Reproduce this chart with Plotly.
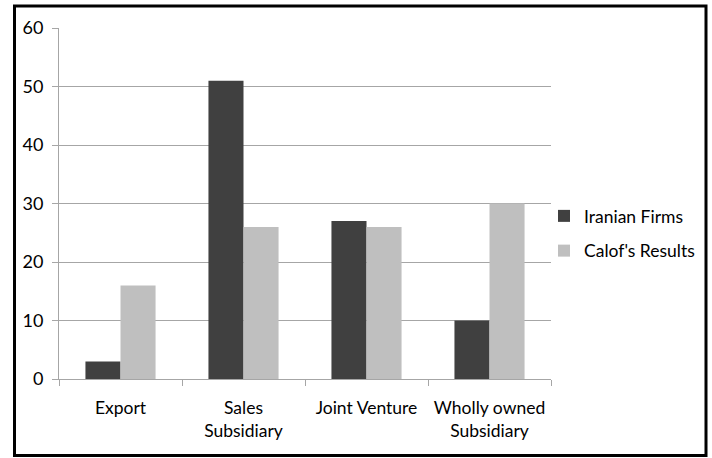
import plotly.graph_objects as go

# Entry modes compared across two sources
categories = ["Export", "Sales<br>Subsidiary", "Joint Venture", "Wholly owned<br>Subsidiary"]
iranian_firms = [3, 51, 27, 10]
calof_results = [16, 26, 26, 30]
y_ticks = [0, 10, 20, 30, 40, 50, 60]

FONT = "Lato, 'Open Sans', sans-serif"
GRID = "#a6a6a6"

fig = go.Figure()
fig.add_trace(go.Bar(name="Iranian Firms", x=categories, y=iranian_firms,
                     legendgroup="a",
                     marker=dict(color="#404040", line=dict(width=0))))
fig.add_trace(go.Bar(name="Calof's Results", x=categories, y=calof_results,
                     legendgroup="b",
                     marker=dict(color="#bfbfbf", line=dict(width=0))))

# plot area spans roughly x 59..551, y 28..379 px
L, R, T, B = 59, 551, 28, 379
W, H = 712, 458
pw, ph = R - L, B - T

def px(x):
    return (x - L) / pw

def py(y):
    return (B - y) / ph

fig.update_layout(
    width=W, height=H,
    margin=dict(l=L, r=W - R, t=T, b=H - B, pad=0, autoexpand=False),
    paper_bgcolor="white", plot_bgcolor="white",
    barmode="group", bargap=0.43, bargroupgap=0,
    font=dict(family=FONT, size=17, color="#000000"),
    showlegend=True,
    legend=dict(x=px(544), y=py(198), xanchor="left", yanchor="top",
                font=dict(family=FONT, size=17.5, color="#000000"),
                bgcolor="rgba(0,0,0,0)", tracegroupgap=9, itemwidth=30),
    xaxis=dict(
        showgrid=False, showline=True, linecolor=GRID, linewidth=1,
        ticks="outside", ticklen=6, tickcolor=GRID, tickson="boundaries",
        tickfont=dict(family=FONT, size=17.5, color="#000000"),
        tickangle=0, automargin=False, ticklabelstandoff=13,
    ),
    yaxis=dict(
        range=[0, 60], tickvals=y_ticks, showgrid=True, gridcolor=GRID,
        gridwidth=1, showline=True, linecolor=GRID, linewidth=1,
        ticks="outside", ticklen=6, tickcolor=GRID, zeroline=False,
        tickfont=dict(family=FONT, size=18, color="#000000"),
        ticklabelstandoff=5, automargin=False,
    ),
    shapes=[dict(type="rect", xref="paper", yref="paper",
                 x0=px(14.5), x1=px(706), y0=py(455.5), y1=py(6),
                 line=dict(color="#000000", width=3), fillcolor="rgba(0,0,0,0)",
                 layer="above")],
)

fig.write_html("out.html")
